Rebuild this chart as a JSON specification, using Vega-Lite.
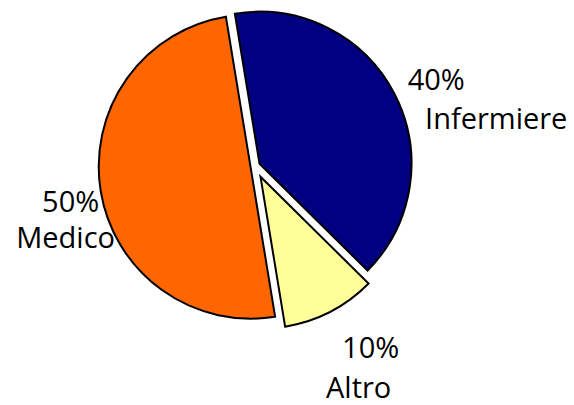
{
  "$schema": "https://vega.github.io/schema/vega-lite/v6.json",
  "width": 304,
  "height": 304,
  "autosize": {"type": "none"},
  "padding": {"left": 103, "top": 14, "right": 167, "bottom": 87},
  "background": "white",
  "config": {"view": {"stroke": null}},
  "data": {
    "values": [
      {"label": "Medico", "value": 0.5},
      {"label": "Infermiere", "value": 0.4},
      {"label": "Altro", "value": 0.1}
    ]
  },
  "transform": [
    {"stack": "value", "groupby": [], "sort": [{"field": "value", "order": "descending"}], "as": ["v0", "v1"]}
  ],
  "encoding": {
    "color": {
      "field": "label",
      "type": "nominal",
      "scale": {"domain": ["Infermiere", "Altro", "Medico"], "range": ["#000080", "#FFFF99", "#FF6600"]},
      "legend": null
    }
  },
  "layer": [
    {
      "transform": [{"filter": "datum.label === 'Medico'"}],
      "mark": {"type": "arc", "stroke": "black", "strokeWidth": 2, "xOffset": -4.5, "yOffset": 0.7},
      "encoding": {
        "theta": {"field": "v0", "type": "quantitative", "scale": {"domain": [0, 1], "range": [2.979, 9.262]}},
        "theta2": {"field": "v1"}
      }
    },
    {
      "transform": [{"filter": "datum.label === 'Infermiere'"}],
      "mark": {"type": "arc", "stroke": "black", "strokeWidth": 2, "xOffset": 4.5, "yOffset": -2.3},
      "encoding": {
        "theta": {"field": "v0", "type": "quantitative"},
        "theta2": {"field": "v1"}
      }
    },
    {
      "transform": [{"filter": "datum.label === 'Altro'"}],
      "mark": {"type": "arc", "stroke": "black", "strokeWidth": 2, "xOffset": 5.5, "yOffset": 10.7},
      "encoding": {
        "theta": {"field": "v0", "type": "quantitative"},
        "theta2": {"field": "v1"}
      }
    },
    {
      "mark": {"type": "text", "radius": 240, "dx": -32, "dy": 34, "font": "Open Sans", "fontSize": 29, "align": "center", "baseline": "alphabetic"},
      "encoding": {
        "theta": {"field": "value", "type": "quantitative", "stack": true},
        "order": {"field": "value", "sort": "descending"},
        "color": {"value": "black"},
        "text": {"condition": {"test": "datum.label === 'Infermiere'", "field": "value", "format": ".0%"}, "value": ""}
      }
    },
    {
      "mark": {"type": "text", "radius": 240, "dx": 28, "dy": 73, "font": "Open Sans", "fontSize": 29, "align": "center", "baseline": "alphabetic"},
      "encoding": {
        "theta": {"field": "value", "type": "quantitative", "stack": true},
        "order": {"field": "value", "sort": "descending"},
        "color": {"value": "black"},
        "text": {"condition": {"test": "datum.label === 'Infermiere'", "field": "label"}, "value": ""}
      }
    },
    {
      "mark": {"type": "text", "radius": 198, "dx": 11, "dy": 14, "font": "Open Sans", "fontSize": 29, "align": "center", "baseline": "alphabetic"},
      "encoding": {
        "theta": {"field": "value", "type": "quantitative", "stack": true},
        "order": {"field": "value", "sort": "descending"},
        "color": {"value": "black"},
        "text": {"condition": {"test": "datum.label === 'Medico'", "field": "value", "format": ".0%"}, "value": ""}
      }
    },
    {
      "mark": {"type": "text", "radius": 198, "dx": 6, "dy": 50, "font": "Open Sans", "fontSize": 29, "align": "center", "baseline": "alphabetic"},
      "encoding": {
        "theta": {"field": "value", "type": "quantitative", "stack": true},
        "order": {"field": "value", "sort": "descending"},
        "color": {"value": "black"},
        "text": {"condition": {"test": "datum.label === 'Medico'", "field": "label"}, "value": ""}
      }
    },
    {
      "mark": {"type": "text", "radius": 228, "dx": 11, "dy": -11, "font": "Open Sans", "fontSize": 29, "align": "center", "baseline": "alphabetic"},
      "encoding": {
        "theta": {"field": "value", "type": "quantitative", "stack": true},
        "order": {"field": "value", "sort": "descending"},
        "color": {"value": "black"},
        "text": {"condition": {"test": "datum.label === 'Altro'", "field": "value", "format": ".0%"}, "value": ""}
      }
    },
    {
      "mark": {"type": "text", "radius": 228, "dx": -1, "dy": 29, "font": "Open Sans", "fontSize": 29, "align": "center", "baseline": "alphabetic"},
      "encoding": {
        "theta": {"field": "value", "type": "quantitative", "stack": true},
        "order": {"field": "value", "sort": "descending"},
        "color": {"value": "black"},
        "text": {"condition": {"test": "datum.label === 'Altro'", "field": "label"}, "value": ""}
      }
    }
  ]
}
